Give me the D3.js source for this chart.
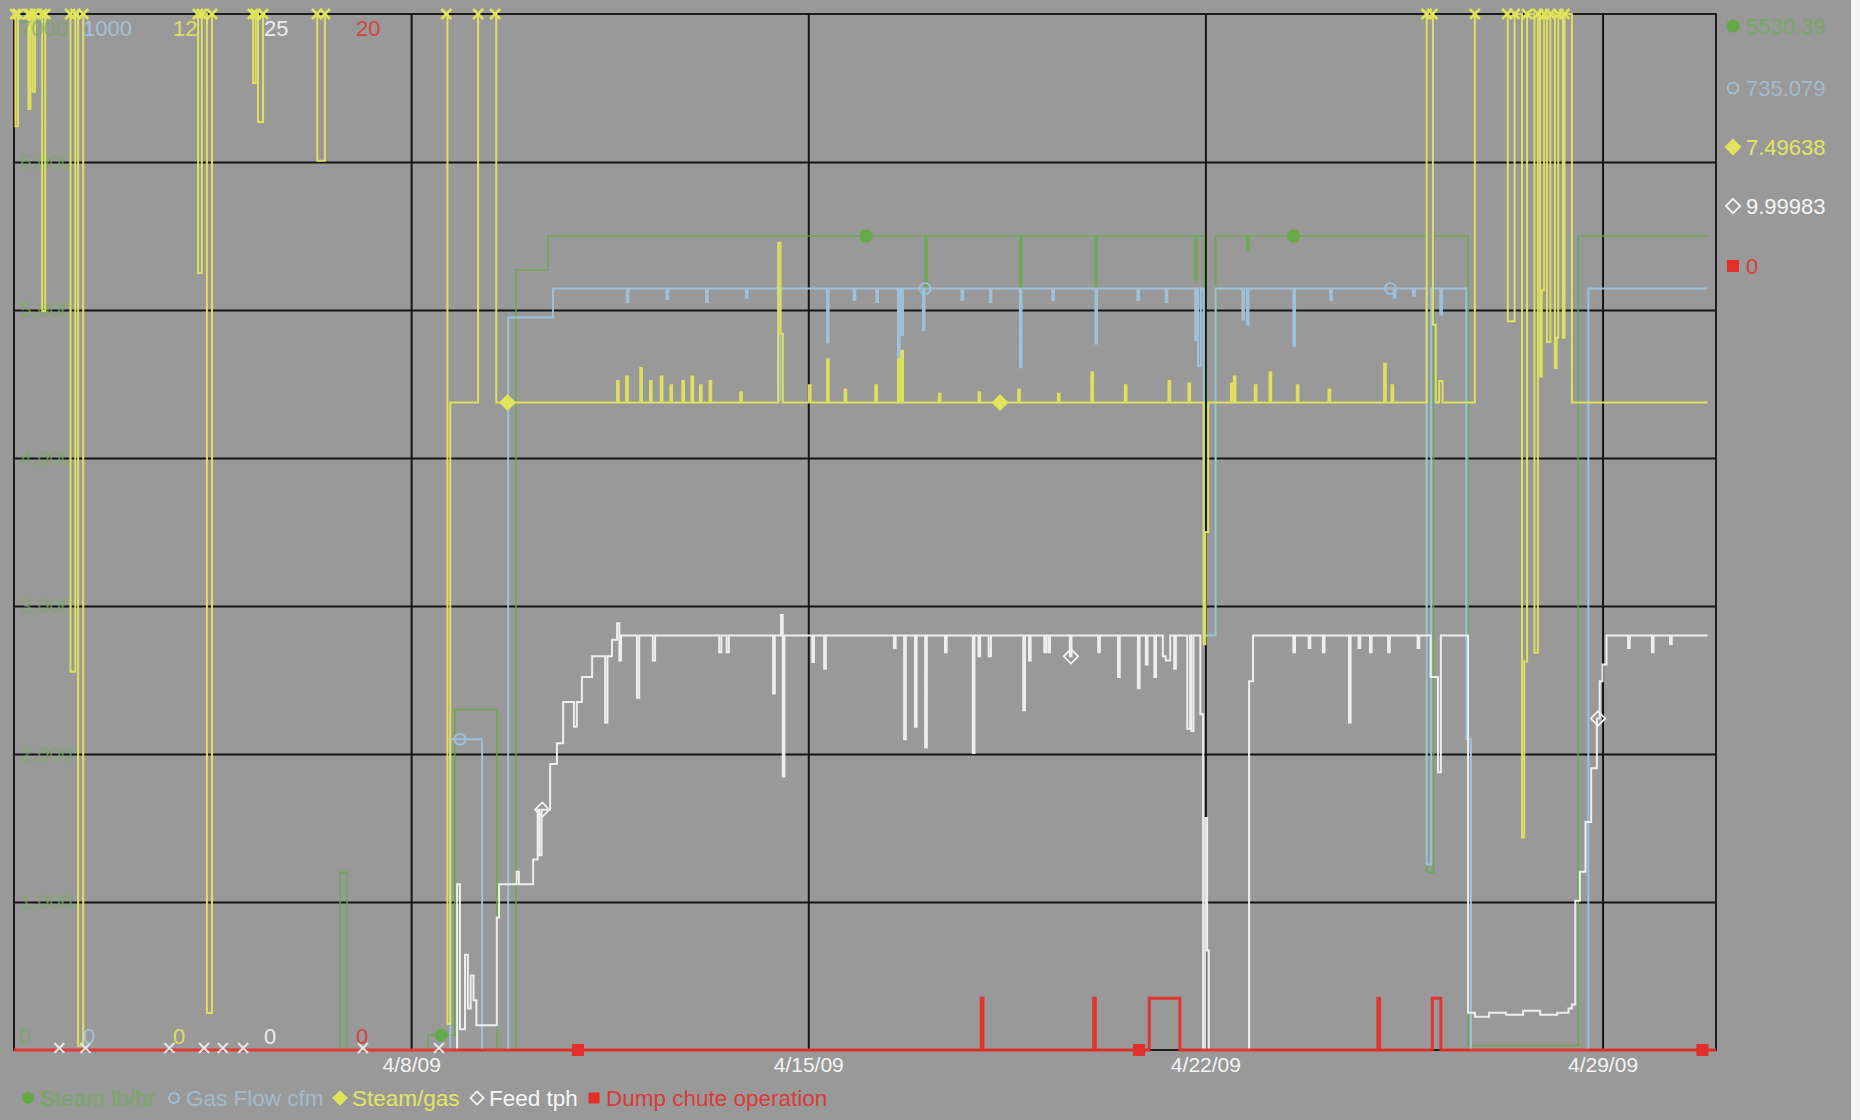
<!DOCTYPE html>
<html>
<head>
<meta charset="utf-8">
<script src="https://cdn.jsdelivr.net/npm/d3@7"></script>
<style>
  html, body { margin: 0; padding: 0; background: #999999; }
  #chart { width: 1860px; height: 1120px; }
  text { font-family: "Liberation Sans", Arial, sans-serif; }
</style>
</head>
<body>
<div id="chart"></div>
<script>
// time is in days after 4/1/09 00:00
const tickDays = [7, 14, 21, 28];
const tickLabels = ["4/8/09", "4/15/09", "4/22/09", "4/29/09"];

const seriesNames = ["Steam lb/hr", "Gas Flow cfm", "Steam/gas", "Feed tph", "Dump chute operation"];
const scaleMin = [0, 0, 0, 0, 0];
const scaleMax = [7000, 1000, 12, 25, 20];
const currentValues = ["5530.39", "735.079", "7.49638", "9.99983", "0"];
const gridValues = [1000, 2000, 3000, 4000, 5000, 6000];

const steam = [
  [0, 0], [5.75, 1200], [5.87, 0], [7.3, 100], [7.77, 2300], [8.51, 0], [8.85, 5270], [9.41, 5500],
  [16.06, 5150], [16.09, 5500], [17.73, 5050], [17.76, 5500], [19.06, 5050], [19.09, 5500],
  [20.82, 5200], [20.85, 5500], [20.98, 2800], [21.18, 5500], [21.73, 5400], [21.76, 5500],
  [24.9, 1200], [25.02, 5500], [25.63, 30], [27.57, 5500], [29.85, 5500]
];

const gas = [
  [0, 0], [7.69, 300], [8.25, 0], [8.71, 707], [9.5, 735],
  [10.8, 722], [10.83, 735], [11.5, 725], [11.53, 735], [12.2, 722], [12.23, 735], [12.9, 726], [12.93, 735],
  [13.47, 627], [13.51, 735], [14.33, 683], [14.36, 735], [14.8, 724], [14.83, 735], [15.2, 722], [15.23, 735],
  [15.58, 669], [15.61, 735], [15.64, 690], [15.67, 735], [16.02, 695], [16.05, 735], [16.7, 724], [16.73, 735],
  [17.2, 722], [17.23, 735], [17.73, 659], [17.76, 735], [18.3, 724], [18.33, 735], [19.06, 682], [19.09, 735],
  [19.8, 724], [19.83, 735], [20.3, 722], [20.33, 735], [20.82, 685], [20.85, 735], [20.87, 660], [20.92, 735],
  [20.97, 400], [21.18, 735], [21.65, 705], [21.68, 735], [21.73, 700], [21.76, 735], [22.55, 680], [22.58, 735],
  [23.2, 724], [23.23, 735], [24.32, 726], [24.35, 735], [24.66, 728], [24.69, 735],
  [24.9, 179], [24.98, 735], [25.14, 710], [25.17, 735], [25.6, 300], [25.68, 0], [27.75, 735], [29.85, 735]
];

// null = no value (gap), values above 12 run off the top of the scale
const steamGas = [
  [0.02, 13], [0.025, 10.7], [0.07, 13], [0.08, null],
  [0.25, 13], [0.255, 10.9], [0.29, 13], [0.33, 11.1], [0.37, 13], [0.38, null],
  [0.49, 13], [0.495, 8.56], [0.55, 13], [0.56, null],
  [0.99, 13], [0.995, 4.38], [1.08, 13], [1.13, 0.05], [1.22, 13], [1.23, null],
  [3.24, 13], [3.245, 9.0], [3.31, 13], [3.4, 0.43], [3.49, 13], [3.5, null],
  [4.21, 13], [4.215, 11.2], [4.26, 13], [4.3, 10.75], [4.39, 13], [4.4, null],
  [5.34, 13], [5.345, 10.3], [5.48, 13], [5.49, null],
  [7.62, 13], [7.64, 0.3], [7.69, 7.5], [8.18, 13], [8.19, null],
  [8.48, 13], [8.5, 7.5],
  [10.63, 7.75], [10.66, 7.5], [10.79, 7.8], [10.82, 7.5], [11.04, 7.9], [11.07, 7.5], [11.21, 7.75], [11.24, 7.5],
  [11.4, 7.8], [11.43, 7.5], [11.57, 7.7], [11.6, 7.5], [11.78, 7.75], [11.81, 7.5], [11.94, 7.8], [11.97, 7.5],
  [12.09, 7.7], [12.12, 7.5], [12.26, 7.75], [12.29, 7.5], [12.8, 7.62], [12.83, 7.5],
  [13.47, 9.35], [13.51, 8.3], [13.55, 7.5], [14.01, 7.7], [14.04, 7.5], [14.33, 8.0], [14.36, 7.5],
  [14.64, 7.65], [14.67, 7.5], [15.18, 7.7], [15.21, 7.5], [15.58, 8.0], [15.61, 7.5], [15.64, 8.1], [15.67, 7.5],
  [16.3, 7.6], [16.33, 7.5], [17.0, 7.62], [17.03, 7.5], [17.7, 7.65], [17.73, 7.5], [18.4, 7.6], [18.43, 7.5],
  [18.99, 7.85], [19.02, 7.5], [19.58, 7.7], [19.61, 7.5], [20.35, 7.75], [20.38, 7.5], [20.7, 7.72], [20.73, 7.5],
  [20.97, 4.7], [21.0, 6.0], [21.05, 7.5],
  [21.45, 7.72], [21.48, 7.5], [21.5, 7.8], [21.53, 7.5], [21.87, 7.7], [21.9, 7.5], [22.13, 7.85], [22.16, 7.5],
  [22.61, 7.7], [22.64, 7.5], [23.17, 7.65], [23.2, 7.5], [24.15, 7.95], [24.18, 7.5], [24.28, 7.7], [24.31, 7.5],
  [24.9, 13], [24.91, null],
  [25.0, 13], [25.01, 8.4], [25.06, 7.5], [25.12, 7.75], [25.18, 7.5], [25.75, 13], [25.76, null],
  [26.32, 13], [26.33, 8.44], [26.45, 13], [26.58, 2.46], [26.62, 4.5], [26.67, 13], [26.8, 4.6], [26.86, 13],
  [26.9, 7.8], [26.93, 8.8], [26.97, 13], [27.02, 8.2], [27.08, 13], [27.16, 7.9], [27.19, 8.25], [27.22, 13],
  [27.3, 8.25], [27.33, 13], [27.46, 7.5], [29.85, 7.5]
];

const feed = [
  [0, 0], [7.81, 4.0], [7.86, 0.5], [7.95, 2.3], [8.0, 1.0], [8.05, 1.8], [8.1, 1.2], [8.15, 0.6],
  [8.51, 3.2], [8.55, 4.0], [8.86, 4.3], [8.9, 4.0], [9.15, 4.6], [9.23, 5.8], [9.26, 4.7], [9.3, 5.8],
  [9.45, 6.9], [9.57, 7.4], [9.68, 8.4], [9.87, 7.8], [9.92, 8.4], [10.01, 9.0], [10.19, 9.5], [10.42, 7.9],
  [10.46, 9.5], [10.54, 9.9], [10.63, 10.3], [10.67, 9.4], [10.7, 10.0], [10.98, 8.5], [11.02, 10.0],
  [11.26, 9.4], [11.3, 10.0],
  [12.43, 9.6], [12.47, 10], [12.56, 9.6], [12.6, 10], [13.38, 8.6], [13.41, 10], [13.52, 10.5], [13.55, 6.6],
  [13.58, 10], [14.07, 9.36], [14.1, 10], [14.28, 9.2], [14.31, 10], [15.51, 9.7], [15.54, 10], [15.69, 7.5],
  [15.72, 10], [15.88, 7.8], [15.91, 10], [16.06, 7.3], [16.09, 10], [16.41, 9.6], [16.44, 10], [16.9, 7.17],
  [16.93, 10], [17.0, 9.5], [17.03, 10], [17.18, 9.5], [17.22, 10], [17.79, 8.2], [17.82, 10], [17.89, 9.4],
  [17.92, 10], [18.16, 9.6], [18.19, 10], [18.23, 9.6], [18.26, 10], [18.61, 9.5], [18.64, 10], [19.11, 9.6],
  [19.14, 10], [19.46, 9.0], [19.49, 10], [19.81, 8.73], [19.84, 10], [19.95, 9.3], [19.98, 10], [20.1, 9.0],
  [20.13, 10], [20.25, 9.5], [20.3, 9.4], [20.38, 10], [20.45, 9.2], [20.48, 10], [20.68, 7.75], [20.73, 10],
  [20.75, 7.7], [20.79, 10], [20.91, 8.1], [20.96, 0], [21.0, 5.6], [21.03, 2.4], [21.06, 0], [21.77, 8.9],
  [21.84, 10],
  [22.55, 9.6], [22.58, 10], [22.82, 9.7], [22.85, 10], [23.07, 9.6], [23.1, 10], [23.53, 7.9], [23.56, 10],
  [23.7, 9.7], [23.73, 10], [23.9, 9.6], [23.93, 10], [24.22, 9.6], [24.25, 10], [24.74, 9.7], [24.77, 10],
  [24.97, 9.0], [25.1, 6.7], [25.15, 10], [25.63, 0.9], [25.75, 0.8], [26.0, 0.9], [26.3, 0.85], [26.6, 0.95],
  [26.9, 0.85], [27.2, 0.9], [27.4, 1.0], [27.46, 1.1], [27.52, 3.6], [27.6, 4.3], [27.7, 5.5], [27.8, 6.8],
  [27.9, 8.0], [27.95, 8.9], [28.0, 9.3], [28.07, 10], [28.45, 9.7], [28.48, 10], [28.87, 9.6], [28.9, 10],
  [29.19, 9.8], [29.22, 10], [29.85, 10]
];

const dump = [
  [0, 0], [17.05, 1], [17.08, 0], [19.03, 1], [19.06, 0], [20.01, 1], [20.55, 0],
  [24.04, 1], [24.07, 0], [25.0, 1], [25.15, 0], [30, 0]
];

// pen markers along each trace, and low-limit marks at the bottom edge
const steamMarks = [7.53, 15.02, 22.55];
const gasMarks = [7.86, 16.06, 24.26];
const steamGasMarks = [8.7, 17.38];
const feedMarks = [9.31, 18.63, 27.92];
const dumpMarks = [9.94, 19.83, 29.76];
const lowMarks = [0.8, 1.26, 2.74, 3.35, 3.68, 4.04, 6.15, 7.49];

const series = [steam, gas, steamGas, feed, dump];
const marks = [steamMarks, gasMarks, steamGasMarks, feedMarks, dumpMarks];
const colors = ["#66aa48", "#9fc2dc", "#e0e45a", "#f2f2f2", "#e3302a"];
const textColors = ["#6fae52", "#a6c6de", "#e2e660", "#f6f6f6", "#dc3a36"];
const shapes = ["dot", "circle", "diamond", "odiamond", "square"];
const widths = [1.6, 2, 2, 2, 3];

const W = 1860, H = 1120;
const plot = { left: 14, top: 14, right: 1716, bottom: 1050 };
const start = new Date(2009, 3, 1);
const toDate = t => new Date(start.getTime() + t * 864e5);

const svg = d3.select("#chart").append("svg")
  .attr("width", W)
  .attr("height", H);

svg.append("rect").attr("width", W).attr("height", H).attr("fill", "#999999");
svg.append("rect").attr("x", 1851).attr("width", 9).attr("height", H).attr("fill", "#f4f4f4");

const x = d3.scaleTime()
  .domain([toDate(0), toDate(30)])
  .range([plot.left, plot.right]);

const yScales = scaleMax.map((m, i) => d3.scaleLinear()
  .domain([scaleMin[i], m])
  .range([plot.bottom, plot.top])
  .clamp(true));

// grid
const xAxis = svg.append("g")
  .attr("transform", `translate(0,${plot.bottom})`)
  .call(d3.axisBottom(x)
    .tickValues(tickDays.map(toDate))
    .tickFormat((d, i) => tickLabels[i])
    .tickSize(-(plot.bottom - plot.top))
    .tickPadding(7));
xAxis.select(".domain").remove();
xAxis.selectAll("line").attr("stroke", "#151515").attr("stroke-width", 2);
xAxis.selectAll("text").attr("fill", "#f4f4f4").attr("font-size", 21)
  .attr("font-family", "Liberation Sans, Arial, sans-serif");

const yAxis = svg.append("g")
  .attr("transform", `translate(${plot.left},0)`)
  .call(d3.axisLeft(yScales[0])
    .tickValues(gridValues)
    .tickSize(-(plot.right - plot.left))
    .tickPadding(-6));
yAxis.select(".domain").remove();
yAxis.selectAll("line").attr("stroke", "#151515").attr("stroke-width", 2);
yAxis.selectAll("text").attr("text-anchor", "start").attr("fill", "#78ad5e")
  .attr("font-size", 21).attr("opacity", 0.7)
  .attr("font-family", "Liberation Sans, Arial, sans-serif");

svg.append("rect")
  .attr("x", plot.left).attr("y", plot.top)
  .attr("width", plot.right - plot.left).attr("height", plot.bottom - plot.top)
  .attr("fill", "none").attr("stroke", "#1c1c1c").attr("stroke-width", 2);

// traces
const valueAt = (data, t) => {
  const i = d3.bisector(d => d[0]).right(data, t) - 1;
  return data[Math.max(0, i)][1];
};

function marker(g, shape, cx, cy, color, s) {
  if (shape === "dot") {
    g.append("circle").attr("cx", cx).attr("cy", cy).attr("r", s * 0.55).attr("fill", color);
  } else if (shape === "circle") {
    g.append("circle").attr("cx", cx).attr("cy", cy).attr("r", s * 0.45)
      .attr("fill", "none").attr("stroke", color).attr("stroke-width", 1.8);
  } else if (shape === "diamond" || shape === "odiamond") {
    const r = s * 0.6;
    g.append("path")
      .attr("d", `M${cx},${cy - r}L${cx + r},${cy}L${cx},${cy + r}L${cx - r},${cy}Z`)
      .attr("fill", shape === "diamond" ? color : "none")
      .attr("stroke", color).attr("stroke-width", 1.8);
  } else {
    g.append("rect").attr("x", cx - s * 0.5).attr("y", cy - s * 0.5)
      .attr("width", s).attr("height", s).attr("fill", color);
  }
}

function cross(g, cx, cy, color, r, w) {
  g.append("path")
    .attr("d", `M${cx - r},${cy - r}L${cx + r},${cy + r}M${cx - r},${cy + r}L${cx + r},${cy - r}`)
    .attr("stroke", color).attr("stroke-width", w).attr("fill", "none");
}

const traces = svg.append("g");

series.forEach((data, i) => {
  const line = d3.line()
    .defined(d => d[1] !== null)
    .x(d => x(toDate(d[0])))
    .y(d => yScales[i](d[1]))
    .curve(d3.curveStepAfter);

  traces.append("path")
    .datum(data)
    .attr("d", line)
    .attr("fill", "none")
    .attr("stroke", colors[i])
    .attr("stroke-width", widths[i])
    .attr("opacity", i === 0 ? 0.85 : 0.95);
});

// off-scale marks where steam/gas leaves the top
const offTop = steamGas.filter(d => d[1] !== null && d[1] > scaleMax[2]);
offTop.forEach(d => cross(traces, x(toDate(d[0])), plot.top, colors[2], 5, 2.5));

lowMarks.forEach(t => cross(traces, x(toDate(t)), plot.bottom - 2, "#e6e6e6", 5, 2));

series.forEach((data, i) => {
  marks[i].forEach(t => {
    marker(traces, shapes[i], x(toDate(t)), yScales[i](valueAt(data, t)), colors[i], 12);
  });
});

// pen scale limits in the plot corners
const labelX = [19, 83, 173, 264, 356];
scaleMax.forEach((m, i) => {
  svg.append("text")
    .attr("x", labelX[i]).attr("y", 28).attr("dy", "0.35em")
    .attr("font-size", 22).attr("fill", textColors[i])
    .attr("opacity", i === 0 ? 0.6 : 0.9)
    .text(m);
  svg.append("text")
    .attr("x", labelX[i]).attr("y", 1036).attr("dy", "0.35em")
    .attr("font-size", 22).attr("fill", textColors[i])
    .attr("opacity", i === 0 ? 0.6 : 0.9)
    .text(scaleMin[i]);
});

// current values on the right
const rightY = [26, 88, 147, 206, 266];
currentValues.forEach((v, i) => {
  marker(svg, shapes[i], 1733, rightY[i], colors[i], 12);
  svg.append("text")
    .attr("x", 1746).attr("y", rightY[i]).attr("dy", "0.35em")
    .attr("font-size", 22).attr("fill", textColors[i])
    .attr("opacity", i < 2 ? 0.75 : 1)
    .text(v);
});

// legend
const legendX = [28, 174, 340, 477, 594];
seriesNames.forEach((name, i) => {
  marker(svg, shapes[i], legendX[i], 1098, colors[i], 11);
  svg.append("text")
    .attr("x", legendX[i] + 12).attr("y", 1098).attr("dy", "0.35em")
    .attr("font-size", 22.5).attr("fill", textColors[i])
    .attr("opacity", i < 2 ? 0.75 : 1)
    .text(name);
});
</script>
</body>
</html>
